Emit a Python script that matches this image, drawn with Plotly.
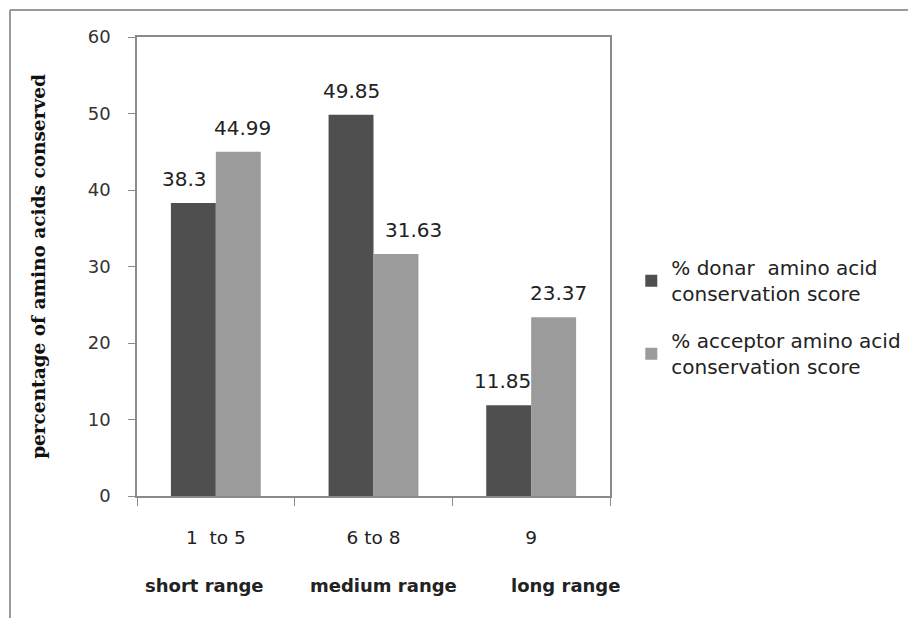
import plotly.graph_objects as go

categories = ["1\u00a0 to 5", "6 to 8", "9"]
range_names = ["short range", "medium range", "long range"]
donor = [38.3, 49.85, 11.85]
acceptor = [44.99, 31.63, 23.37]
series_names = ["% donar\u00a0 amino acid<br>conservation score",
                "% acceptor amino acid<br>conservation score"]
y_ticks = [0, 10, 20, 30, 40, 50, 60]

# page body has an 8px margin, so the figure is offset by 8px
OFF = 8
W, H = 916 - 2 * OFF, 626 - 2 * OFF
L = 137 - OFF
T = 37 - OFF
R = W - (610 - OFF)
B = H - (496 - OFF)

fig = go.Figure()
fig.add_trace(go.Bar(x=categories, y=donor, name=series_names[0], legendgroup="d",
                     marker=dict(color="#4f4f4f", line=dict(width=0))))
fig.add_trace(go.Bar(x=categories, y=acceptor, name=series_names[1], legendgroup="a",
                     marker=dict(color="#9b9b9b", line=dict(width=0))))

label_font = dict(family="DejaVu Sans", size=20, color="#222222")
bar_half = 22.5
nudges = [[-9, 4], [0, 17], [-6, 5]]
for i, c in enumerate(categories):
    for j, vals in enumerate([donor, acceptor]):
        fig.add_annotation(x=i, y=vals[i], xref="x", yref="y",
                           text=str(vals[i]), showarrow=False,
                           xshift=(-bar_half if j == 0 else bar_half) + nudges[i][j],
                           yshift=24, font=label_font)

range_shift = [-73, -66, -22]
for i, c in enumerate(categories):
    fig.add_annotation(x=i, xref="x", y=-(585 - 496) / (496 - 37), yref="paper",
                       text="<b>%s</b>" % range_names[i],
                       showarrow=False, xanchor="left", yanchor="middle", xshift=range_shift[i],
                       font=dict(family="DejaVu Sans", size=18, color="#222222"))

# outer frame (top and left edges visible)
pw, ph = W - L - R, H - T - B
fx = (10 - OFF - L) / pw
fy = (H - B - (10 - OFF)) / ph
fig.add_shape(type="line", xref="paper", yref="paper", x0=fx, x1=2.0, y0=fy, y1=fy,
              line=dict(color="#9a9a9a", width=2))
fig.add_shape(type="line", xref="paper", yref="paper", x0=fx, x1=fx, y0=fy, y1=-0.5,
              line=dict(color="#9a9a9a", width=2))

fig.update_layout(
    width=W, height=H,
    margin=dict(l=L, r=R, t=T, b=B, autoexpand=False),
    paper_bgcolor="white", plot_bgcolor="white",
    barmode="group", bargap=0.43, bargroupgap=0,
    showlegend=True,
    legend=dict(x=1.045, xanchor="left", y=0.54, yanchor="top",
                font=dict(family="DejaVu Sans", size=20, color="#222222"),
                tracegroupgap=18, itemwidth=30, bgcolor="rgba(0,0,0,0)"),
    xaxis=dict(type="category", automargin=False, range=[-0.5, len(categories) - 0.5],
               showline=True, linecolor="#8a8a8a", linewidth=1.5, mirror=True,
               ticks="outside", ticklen=8, tickcolor="#8a8a8a", tickson="boundaries",
               ticklabelstandoff=24, tickangle=0,
               tickfont=dict(family="DejaVu Sans", size=18.5, color="#222222"),
               showgrid=False, zeroline=False),
    yaxis=dict(range=[0, 60], tickvals=y_ticks, automargin=False, showline=True,
               linecolor="#8a8a8a", linewidth=1.5, mirror=True, ticks="outside",
               ticklen=7, tickcolor="#8a8a8a", ticklabelstandoff=14,
               tickfont=dict(family="DejaVu Sans", size=18, color="#333333"),
               showgrid=False, zeroline=False,
               title=dict(text="<b>percentage of amino acids conserved</b>", standoff=37,
                          font=dict(family="DejaVu Serif", size=18.5, color="#111111"))),
)

fig.write_html("out.html")
